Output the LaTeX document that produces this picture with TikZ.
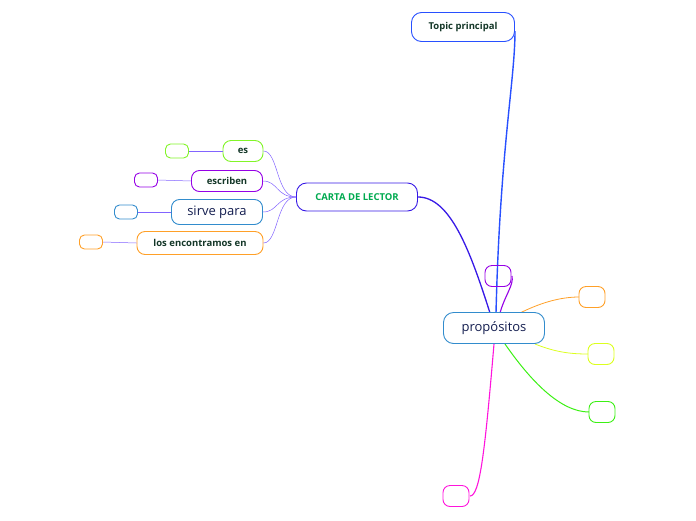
\documentclass[tikz,border=0pt]{standalone}
\usepackage{fontspec}
\setmainfont{Open Sans}
\usepackage{xcolor}
\usetikzlibrary{positioning}

\definecolor{topicblue}{RGB}{40,80,255}
\definecolor{cartablue}{RGB}{55,25,230}
\definecolor{propblue}{RGB}{50,140,205}
\definecolor{textgreen}{RGB}{0,170,80}
\definecolor{textdark}{RGB}{20,55,40}
\definecolor{textnavy}{RGB}{20,30,80}
\definecolor{leafgreen}{RGB}{130,245,40}
\definecolor{leafpurple}{RGB}{150,0,230}
\definecolor{leaforange}{RGB}{255,160,40}
\definecolor{leafyellow}{RGB}{220,255,30}
\definecolor{leafgreenb}{RGB}{60,240,20}
\definecolor{leafmagenta}{RGB}{255,20,220}
\definecolor{linkviolet}{RGB}{130,100,255}

\begin{document}
\begin{tikzpicture}[x=1pt,y=-1pt]
\tikzset{
    box/.style={draw,rounded corners=8pt,line width=0.9pt,inner sep=0pt,fill=white},
    small/.style={font=\fontsize{9.5}{11}\selectfont\bfseries,text=textdark},
    large/.style={font=\fontsize{13}{15}\selectfont,text=textnavy},
    leaf/.style={box,minimum width=23pt,minimum height=14pt,rounded corners=5pt},
    bigleaf/.style={box,fill=none,minimum width=26pt,minimum height=21pt,rounded corners=7pt},
    link/.style={linkviolet,line width=0.5pt}
}
\useasboundingbox (0,0) rectangle (696,520);

% connectors from propositos
\draw[topicblue,line width=1.4pt] (496,313) .. controls (500,150) and (515,80) .. (515,31);
\draw[cartablue,line width=1.3pt] (490,313) .. controls (470,250) and (450,197) .. (418,197);
\draw[leafpurple,line width=1.1pt] (500,313) .. controls (505,295) and (514,285) .. (512,276);
\draw[leaforange,line width=0.8pt] (520,313) .. controls (540,303) and (560,297) .. (579,297);
\draw[leafyellow,line width=0.8pt] (535,344) .. controls (555,352) and (570,354) .. (588,354);
\draw[leafgreenb,line width=1pt] (505,344) .. controls (530,380) and (560,412) .. (589,412);
\draw[leafmagenta,line width=1.1pt] (494,344) .. controls (485,450) and (480,496) .. (470,496);

\node[box,draw=topicblue,small,minimum width=103pt,minimum height=29pt,rounded corners=10pt] (topic) at (463,27) {Topic principal};
\node[box,draw=cartablue,small,text=textgreen,minimum width=121pt,minimum height=28pt,rounded corners=10pt] (carta) at (357,197) {CARTA DE LECTOR};
\node[box,draw=propblue,large,minimum width=101pt,minimum height=31pt,rounded corners=10pt] (prop) at (494,328) {propósitos};

\node[bigleaf,draw=leafpurple] (proppurple) at (498,276) {};
\node[bigleaf,draw=leaforange] (proporange) at (592,297) {};
\node[bigleaf,draw=leafyellow] (propyellow) at (601,354) {};
\node[bigleaf,draw=leafgreenb] (propgreen) at (602,412) {};
\node[bigleaf,draw=leafmagenta] (propmagenta) at (456,496) {};

% carta de lector branches
\node[box,draw=leafgreen,small,minimum width=40pt,minimum height=21pt] (es) at (243,151) {es};
\node[box,draw=leafpurple,small,minimum width=71pt,minimum height=21pt] (escriben) at (227,181) {escriben};
\node[box,draw=propblue,large,minimum width=91pt,minimum height=25pt] (sirve) at (217,212) {sirve para};
\node[box,draw=leaforange,small,minimum width=126pt,minimum height=23pt] (encontramos) at (200,243) {los encontramos en};

\node[leaf,draw=leafgreen] (esleaf) at (177,151) {};
\node[leaf,draw=leafpurple] (escribenleaf) at (146,180) {};
\node[leaf,draw=propblue] (sirveleaf) at (126,212) {};
\node[leaf,draw=leaforange] (encontramosleaf) at (91,242) {};

\foreach \n in {es,escriben,sirve,encontramos}{
    \draw[link] (carta.west) .. controls +(-20,0) and +(15,0) .. (\n.east);
    \draw[link] (\n.west) -- (\n leaf.east);
}
\end{tikzpicture}
\end{document}
